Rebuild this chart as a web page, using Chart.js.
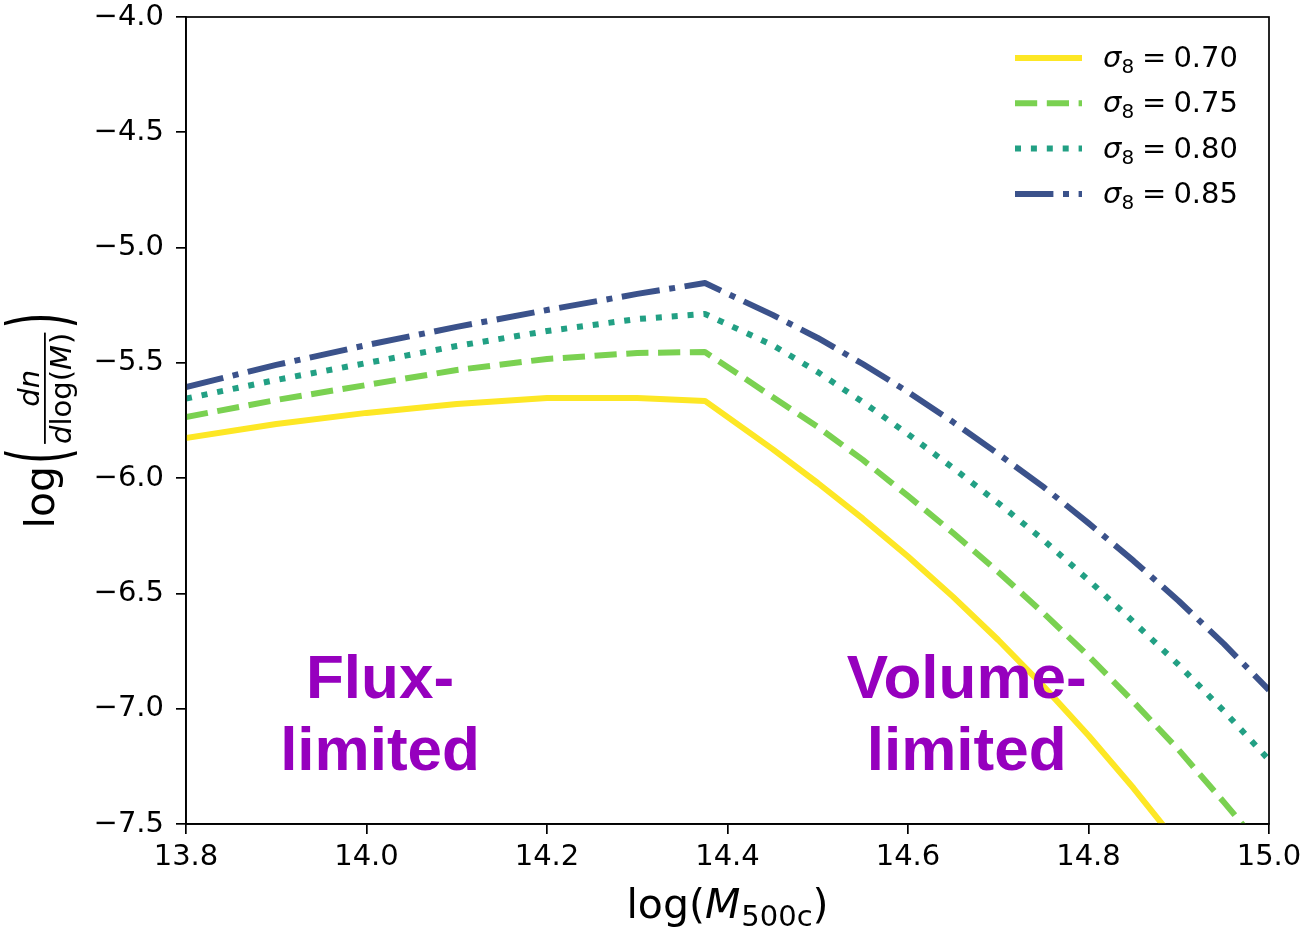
<!DOCTYPE html>
<html>
<head>
<meta charset="utf-8">
<script src="https://cdn.jsdelivr.net/npm/chart.js@4.4.1/dist/chart.umd.min.js"></script>
<style>
  html, body { margin: 0; padding: 0; background: #fff; }
  #wrap { width: 1308px; height: 929px; position: relative; }
</style>
</head>
<body>
<div id="wrap"><canvas id="massFunction"></canvas></div>
<script>
// log(M500c) grid, shared by all curves (kink at 14.375)
const logMass = [13.8, 13.9, 14.0, 14.1, 14.2, 14.3, 14.375, 14.45, 14.5, 14.55, 14.6, 14.65, 14.7, 14.75, 14.8, 14.85, 14.9, 14.95, 15.0];

// log(dn/dlog(M))
const sigma070 = [-5.826, -5.765, -5.717, -5.678, -5.652, -5.652, -5.665, -5.874, -6.021, -6.176, -6.340, -6.515, -6.702, -6.902, -7.116, -7.345, -7.590, -7.85, -8.13];
const sigma075 = [-5.735, -5.661, -5.596, -5.531, -5.483, -5.457, -5.453, -5.648, -5.778, -5.921, -6.077, -6.238, -6.407, -6.585, -6.771, -6.971, -7.179, -7.405, -7.639];
const sigma080 = [-5.655, -5.574, -5.501, -5.427, -5.362, -5.310, -5.288, -5.423, -5.540, -5.670, -5.809, -5.956, -6.108, -6.268, -6.442, -6.624, -6.810, -7.010, -7.222];
const sigma085 = [-5.605, -5.509, -5.423, -5.344, -5.271, -5.201, -5.154, -5.292, -5.392, -5.505, -5.626, -5.757, -5.895, -6.038, -6.195, -6.359, -6.533, -6.719, -6.919];

const sigmaValues = ['0.70', '0.75', '0.80', '0.85'];
const regionText = [['Flux-', 'limited'], ['Volume-', 'limited']];
const regionX = [14.015, 14.665];

// styling (matplotlib-ish: lw 6px, viridis colours)
const LW = 6;
const styles = [
  { color: '#fde725', dash: [] },
  { color: '#7ad151', dash: [22.2, 9.6] },
  { color: '#22a084', dash: [6, 9.9] },
  { color: '#3b528b', dash: [38.4, 9.6, 6, 9.6] }
];
const series = [sigma070, sigma075, sigma080, sigma085];

const FONT = "'DejaVu Sans', sans-serif";
const MINUS = '\u2212';

function pts(ys) {
  return logMass.map((x, i) => ({ x: x, y: ys[i] }));
}

const datasets = series.map((ys, i) => ({
  label: 'σ8 = ' + sigmaValues[i],
  data: pts(ys),
  borderColor: styles[i].color,
  borderDash: styles[i].dash,
  borderWidth: LW,
  borderCapStyle: i === 0 ? 'square' : 'butt',
  borderJoinStyle: 'round',
  pointRadius: 0,
  tension: 0,
  fill: false,
  clip: 0,
  order: 4 - i
}));

// draws text pieces one after another, returns end x
function run(ctx, parts, x, y) {
  parts.forEach(p => {
    ctx.font = p.font;
    ctx.fillText(p.t, x, y + (p.dy || 0));
    x += ctx.measureText(p.t).width + (p.gap || 0);
  });
  return x;
}

const overlay = {
  id: 'overlay',
  afterDatasetsDraw(chart) {
    const ctx = chart.ctx, a = chart.chartArea;
    const sx = chart.scales.x;
    ctx.save();

    // frame
    ctx.strokeStyle = '#000';
    ctx.lineWidth = 1.7;
    ctx.strokeRect(a.left, a.top, a.right - a.left, a.bottom - a.top);

    // region labels
    ctx.fillStyle = '#9600be';
    ctx.font = "bold 62px 'Liberation Sans', Arial, sans-serif";
    ctx.textAlign = 'center';
    ctx.textBaseline = 'alphabetic';
    regionText.forEach((lines, i) => {
      const px = sx.getPixelForValue(regionX[i]);
      lines.forEach((l, j) => ctx.fillText(l, px, 698 + j * 72));
    });

    // legend
    ctx.textAlign = 'left';
    ctx.fillStyle = '#000';
    styles.forEach((s, i) => {
      const y = 58 + i * 45.3;
      ctx.beginPath();
      ctx.setLineDash(s.dash);
      ctx.lineCap = s.dash.length ? 'butt' : 'square';
      ctx.strokeStyle = s.color;
      ctx.lineWidth = LW;
      ctx.moveTo(i === 0 ? 1018 : 1015, y);
      ctx.lineTo(i === 0 ? 1079 : 1082, y);
      ctx.stroke();
      ctx.setLineDash([]);
      run(ctx, [
        { t: 'σ', font: 'italic 29px ' + FONT },
        { t: '8', font: '20px ' + FONT, dy: 6, gap: 8 },
        { t: '=', font: '29px ' + FONT, gap: 7 },
        { t: sigmaValues[i], font: '29px ' + FONT }
      ], 1103, y + 9);
    });

    // x axis title: log(M_500c)
    const xParts = [
      { t: 'log(', font: '41px ' + FONT },
      { t: 'M', font: 'italic 41px ' + FONT, gap: 1 },
      { t: '500c', font: '29px ' + FONT, dy: 8 },
      { t: ')', font: '41px ' + FONT }
    ];
    let w = 0;
    xParts.forEach(p => { ctx.font = p.font; w += ctx.measureText(p.t).width + (p.gap || 0); });
    run(ctx, xParts, (a.left + a.right) / 2 - w / 2, 918);

    // y axis title: log( dn / dlog(M) ), rotated
    ctx.translate(54, (a.top + a.bottom) / 2);
    ctx.rotate(-Math.PI / 2);
    const big = '41px ' + FONT, small = '29px ' + FONT, smallI = 'italic 29px ' + FONT;
    ctx.font = big;
    const wLog = ctx.measureText('log').width;
    const wPar = ctx.measureText('(').width;
    const den = [
      { t: 'd', font: smallI },
      { t: 'log(', font: small },
      { t: 'M', font: smallI, gap: 1 },
      { t: ')', font: small }
    ];
    let wDen = 0;
    den.forEach(p => { ctx.font = p.font; wDen += ctx.measureText(p.t).width + (p.gap || 0); });
    ctx.font = smallI;
    const wNum = ctx.measureText('dn').width;
    const total = wLog + 2 + wPar + 4 + wDen + 4 + wPar;
    let x = -total / 2;
    ctx.font = big;
    ctx.fillText('log', x, 0);
    x += wLog + 2;
    ctx.save(); ctx.translate(x, 12); ctx.scale(1, 2); ctx.fillText('(', 0, 0); ctx.restore();
    x += wPar + 4;
    ctx.font = smallI;
    ctx.fillText('dn', x + (wDen - wNum) / 2, -15);
    ctx.fillRect(x, -10, wDen, 1.8);
    run(ctx, den, x, 17);
    x += wDen + 4;
    ctx.font = big;
    ctx.save(); ctx.translate(x, 12); ctx.scale(1, 2); ctx.fillText(')', 0, 0); ctx.restore();

    ctx.restore();
  }
};

const tickFont = { family: FONT, size: 29 };

const options = {
  animation: false,
  responsive: true,
  maintainAspectRatio: false,
  layout: { padding: { left: 0, top: 17, right: 39, bottom: 0 } },
  plugins: { legend: { display: false }, tooltip: { enabled: false } },
  scales: {
    x: {
      type: 'linear',
      min: 13.8,
      max: 15.0,
      afterFit: s => { s.height = 105; s.paddingLeft = 0; s.paddingRight = 0; },
      border: { display: true, color: '#000', width: 1.7 },
      grid: { display: true, drawOnChartArea: false, drawTicks: true, tickLength: 10, color: '#000', lineWidth: 1.7 },
      ticks: {
        stepSize: 0.2,
        color: '#000',
        font: tickFont,
        padding: 6,
        maxRotation: 0,
        callback: v => Number(v).toFixed(1)
      }
    },
    y: {
      type: 'linear',
      min: -7.5,
      max: -4.0,
      afterFit: s => { s.width = 186; s.paddingTop = 0; s.paddingBottom = 0; },
      border: { display: true, color: '#000', width: 1.7 },
      grid: { display: true, drawOnChartArea: false, drawTicks: true, tickLength: 10, color: '#000', lineWidth: 1.7 },
      ticks: {
        stepSize: 0.5,
        color: '#000',
        font: tickFont,
        padding: 12,
        callback: v => (v < 0 ? MINUS : '') + Math.abs(v).toFixed(1)
      }
    }
  }
};

const ctx = document.getElementById('massFunction').getContext('2d');
window.chart = new Chart(ctx, {
  type: 'line',
  data: { datasets: datasets },
  options: options,
  plugins: [overlay]
});
</script>
</body>
</html>
